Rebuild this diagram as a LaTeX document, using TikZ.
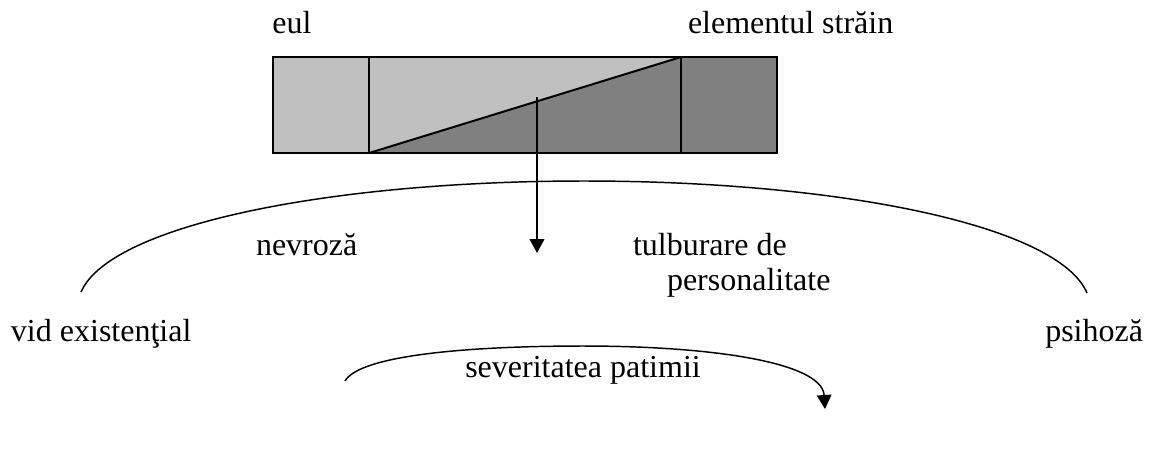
\documentclass[tikz,border=0pt]{standalone}
\usepackage{fontspec}
\setmainfont{Liberation Serif}
\usetikzlibrary{arrows.meta}
\definecolor{lightfill}{RGB}{192,192,192}
\definecolor{darkfill}{RGB}{128,128,128}
\begin{document}
\begin{tikzpicture}[x=0.75pt,y=-0.75pt,
  lbl/.style={inner sep=0pt,outer sep=0pt,font=\fontsize{24}{29}\selectfont},
  boxline/.style={line width=1.5pt},
  arcline/.style={line width=1.1pt},
  tip/.style={-{Triangle[length=10.5pt,width=11pt]}}]
\useasboundingbox (0,0) rectangle (1151,455);
% box
\coordinate (bl) at (273,153);
\coordinate (tl) at (273,57);
\coordinate (d1b) at (369,153);
\coordinate (d1t) at (369,57);
\coordinate (d2b) at (681,153);
\coordinate (d2t) at (681,57);
\coordinate (br) at (777,153);
\coordinate (tr) at (777,57);
\fill[lightfill] (tl) rectangle (d1b);
\fill[lightfill] (d1b) -- (d1t) -- (d2t) -- cycle;
\fill[darkfill] (d1b) -- (d2t) -- (d2b) -- cycle;
\fill[darkfill] (d2t) rectangle (br);
\draw[boxline] (tl) rectangle (br);
\draw[boxline] (d1t) -- (d1b);
\draw[boxline] (d2t) -- (d2b);
\draw[boxline] (d1b) -- (d2t);
% labels
\node[lbl,anchor=base] (eul) at (292,33) {eul};
\node[lbl,anchor=base west] (strain) at (688,33) {elementul străin};
\node[lbl,anchor=base west] (nevroza) at (256,255) {nevroză};
\node[lbl,anchor=base west] (tulb) at (633,255) {tulburare de};
\node[lbl,anchor=base west] (pers) at (667,290) {personalitate};
\node[lbl,anchor=base west] (vid) at (11,341) {vid existenţial};
\node[lbl,anchor=base east] (psih) at (1143,341) {psihoză};
\node[lbl,anchor=base] (sev) at (583,377) {severitatea patimii};
% vertical arrow
\coordinate (astart) at (537,97);
\coordinate (aend) at (537,253);
\draw[boxline,tip] (astart) -- (aend);
% big arc
\coordinate (bigL) at (81,292);
\coordinate (bigT) at (584,181);
\coordinate (bigR) at (1087,293);
\draw[arcline] (bigL) .. controls (110,225) and (330,181) .. (bigT)
  .. controls (838,181) and (1058,225) .. (bigR);
% small arc
\coordinate (smL) at (345,381);
\coordinate (smT) at (583,346);
\coordinate (smR) at (825,409);
\draw[arcline] (smL) .. controls (360,355) and (470,346) .. (smT);
\draw[arcline,tip] (smT) .. controls (710,346) and (822,362) .. (smR);
\end{tikzpicture}
\end{document}
